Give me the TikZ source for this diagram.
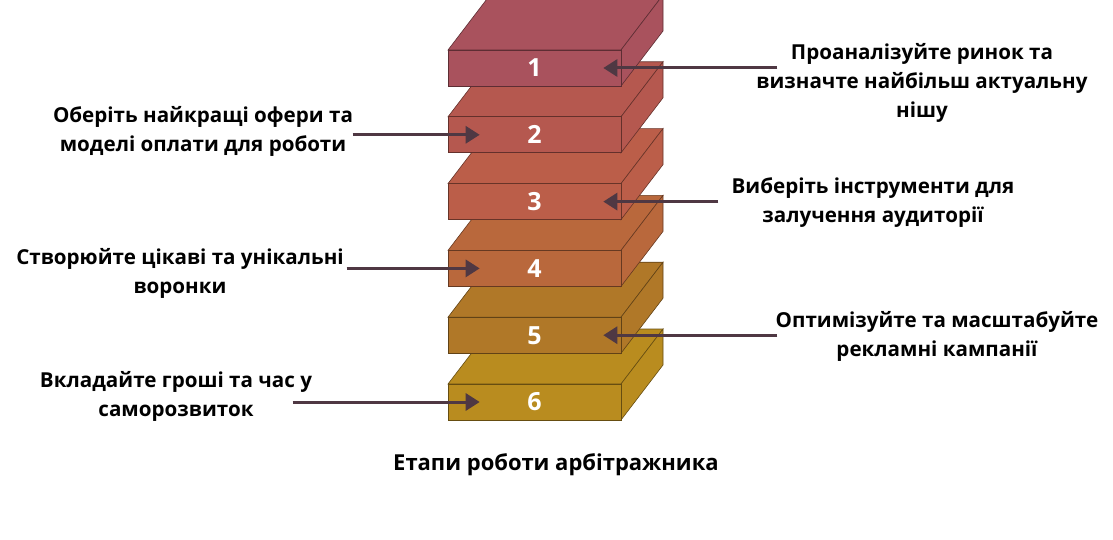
\documentclass[tikz,border=0pt]{standalone}
\usepackage{fontspec}
\setmainfont{Open Sans}
\usetikzlibrary{arrows.meta}

\definecolor{blockA}{HTML}{A9525D}
\definecolor{blockB}{HTML}{B5584F}
\definecolor{blockC}{HTML}{BB5E49}
\definecolor{blockD}{HTML}{B9683C}
\definecolor{blockE}{HTML}{B07828}
\definecolor{blockF}{HTML}{B98C1F}
\definecolor{arrowcol}{HTML}{4F3843}

\tikzset{
    face/.style={fill=#1, draw=#1!55!black, line width=0.6pt},
    frontface/.style={face=#1, minimum width=173pt, minimum height=36pt, inner sep=0pt,
        text=white, font=\fontsize{25}{25}\selectfont\bfseries},
    steptext/.style={align=center, font=\fontsize{20.6}{29}\selectfont\bfseries},
    arr/.style={-{Triangle[length=14pt,width=17pt]}, line width=3pt, arrowcol},
}

\begin{document}
\begin{tikzpicture}[x=1pt,y=-1pt]
            \useasboundingbox (0,0) rectangle (1113,540);

            % blocks, from the bottom one up
            \foreach \i/\c in {6/blockF,5/blockE,4/blockD,3/blockC,2/blockB,1/blockA}{
                \pgfmathsetmacro\y{50+(\i-1)*66.8}
                \draw[face=\c] (448,\y) -- ++(42,-55) -- ++(173,0) -- ++(-42,55) -- cycle;
                \draw[face=\c] (621,\y) -- ++(42,-55) -- ++(0,36) -- ++(-42,55) -- cycle;
                \node[frontface=\c] (f\i) at (534.5,\y+18) {\i};
            }

            \node[steptext] (l1) at (922,83) {Проаналізуйте ринок та\\визначте найбільш актуальну\\нішу};
            \node[steptext] (l2) at (203,131) {Оберіть найкращі офери та\\моделі оплати для роботи};
            \node[steptext] (l3) at (873,203) {Виберіть інструменти для\\залучення аудиторії};
            \node[steptext] (l4) at (180,273) {Створюйте цікаві та унікальні\\воронки};
            \node[steptext] (l5) at (937,336) {Оптимізуйте та масштабуйте\\рекламні кампанії};
            \node[steptext] (l6) at (176,396) {Вкладайте гроші та час у\\саморозвиток};

            \node[font=\fontsize{22}{26}\selectfont\bfseries] (title) at (556,465) {Етапи роботи арбітражника};

            \coordinate (s1) at ([xshift=156]f1.east);
            \coordinate (s2) at ([xshift=-95]f2.west);
            \coordinate (s3) at ([xshift=97]f3.east);
            \coordinate (s4) at ([xshift=-101]f4.west);
            \coordinate (s5) at ([xshift=156]f5.east);
            \coordinate (s6) at ([xshift=-155]f6.west);

            \draw[arr] (s1) -- ([xshift=-18]f1.east);
            \draw[arr] (s2) -- ([xshift=32]f2.west);
            \draw[arr] (s3) -- ([xshift=-18]f3.east);
            \draw[arr] (s4) -- ([xshift=32]f4.west);
            \draw[arr] (s5) -- ([xshift=-18]f5.east);
            \draw[arr] (s6) -- ([xshift=32]f6.west);
        \end{tikzpicture}
\end{document}
